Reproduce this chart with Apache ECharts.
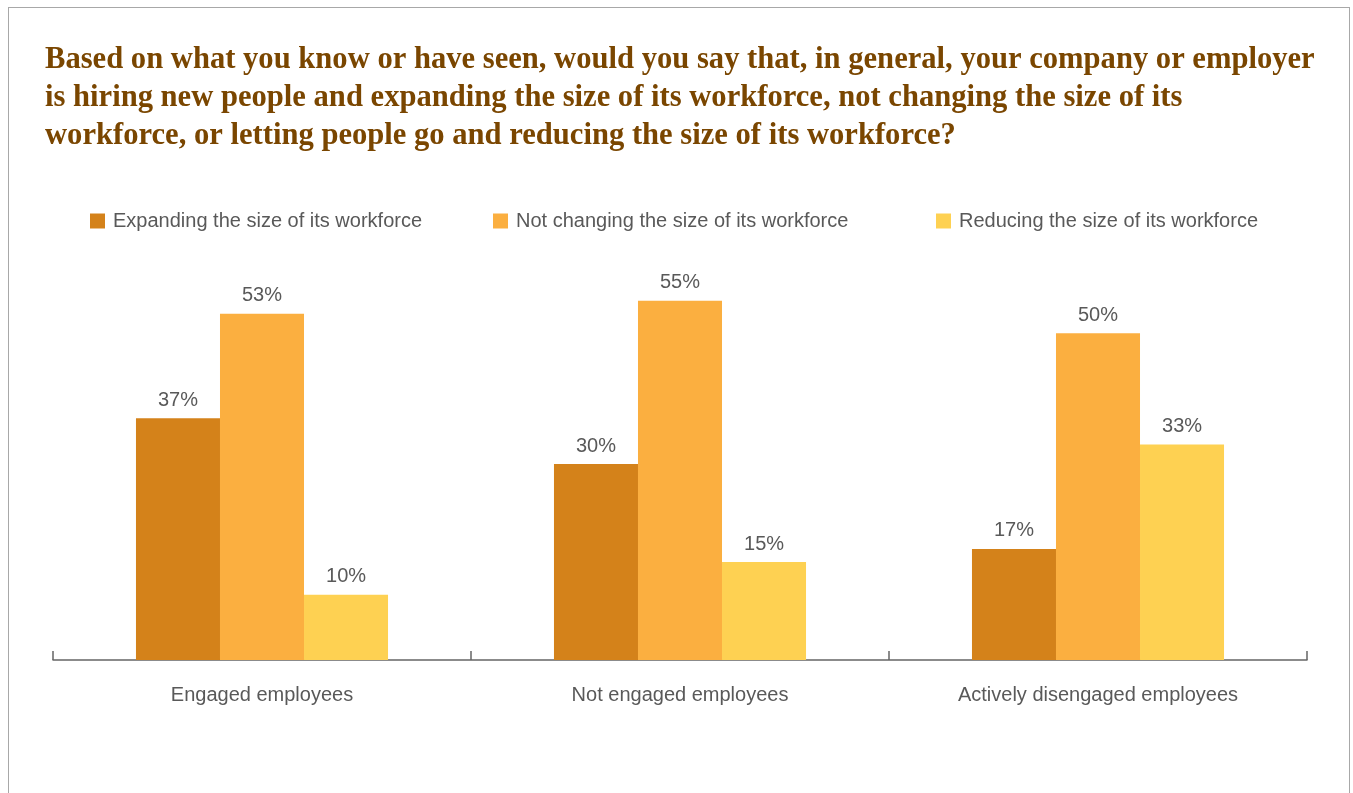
<!DOCTYPE html>
<html><head><meta charset="utf-8">
<script src="https://cdn.jsdelivr.net/npm/echarts@6/dist/echarts.min.js"></script>
<style>
html,body{margin:0;padding:0;background:#fff;}
#frame{position:absolute;left:8px;top:7px;width:1342px;height:800px;border:1.5px solid #a8a8a8;border-bottom:none;box-sizing:border-box;}
#c{position:absolute;left:0;top:0;width:1353px;height:793px;}
</style></head>
<body>
<div id="frame"></div>
<div id="c"></div>
<script>
const titleLines = [
  "Based on what you know or have seen, would you say that, in general, your company or employer",
  "is hiring new people and expanding the size of its workforce, not changing the size of its",
  "workforce, or letting people go and reducing the size of its workforce?"
];
const categories = ["Engaged employees", "Not engaged employees", "Actively disengaged employees"];
const seriesNames = ["Expanding the size of its workforce", "Not changing the size of its workforce", "Reducing the size of its workforce"];
const expanding = [37, 30, 17];
const notChanging = [53, 55, 50];
const reducing = [10, 15, 33];
const colors = ["#D4821A", "#FBAF40", "#FED152"];

const chart = echarts.init(document.getElementById('c'));
const valueLists = [expanding, notChanging, reducing];
const legendLefts = [85, 488, 931];
const textColor = '#595959';
chart.setOption({
  animation: false,
  title: {
    text: titleLines.join('\n'),
    left: 40, top: 36,
    textStyle: {fontFamily: 'Liberation Serif', fontWeight: 'bold', fontSize: 30.6, color: '#7A4600', lineHeight: 38}
  },
  legend: seriesNames.map((n, i) => ({
    top: 206, left: legendLefts[i],
    itemWidth: 15, itemHeight: 15,
    icon: 'rect',
    textStyle: {fontFamily: 'Liberation Sans', fontSize: 20, color: textColor, padding: [0, 0, 0, 3]},
    data: [n]
  })),
  grid: {left: 53, right: 46, top: 268, bottom: 133},
  xAxis: {
    type: 'category', data: categories,
    axisLine: {lineStyle: {color: '#666', width: 1.5}},
    axisTick: {show: true, inside: true, length: 9, lineStyle: {color: '#666', width: 1.5}},
    axisLabel: {fontFamily: 'Liberation Sans', fontSize: 20, color: textColor, margin: 25}
  },
  yAxis: {type: 'value', min: 0, max: 60, show: false, splitLine: {show: false}},
  series: valueLists.map((vals, i) => ({
    name: seriesNames[i], type: 'bar', data: vals,
    barGap: '0%', barCategoryGap: '39.7%',
    itemStyle: {color: colors[i]},
    label: {show: true, position: 'top', distance: 8, formatter: '{c}%',
      fontFamily: 'Liberation Sans', fontSize: 20, color: textColor}
  }))
});
</script>
</body></html>
